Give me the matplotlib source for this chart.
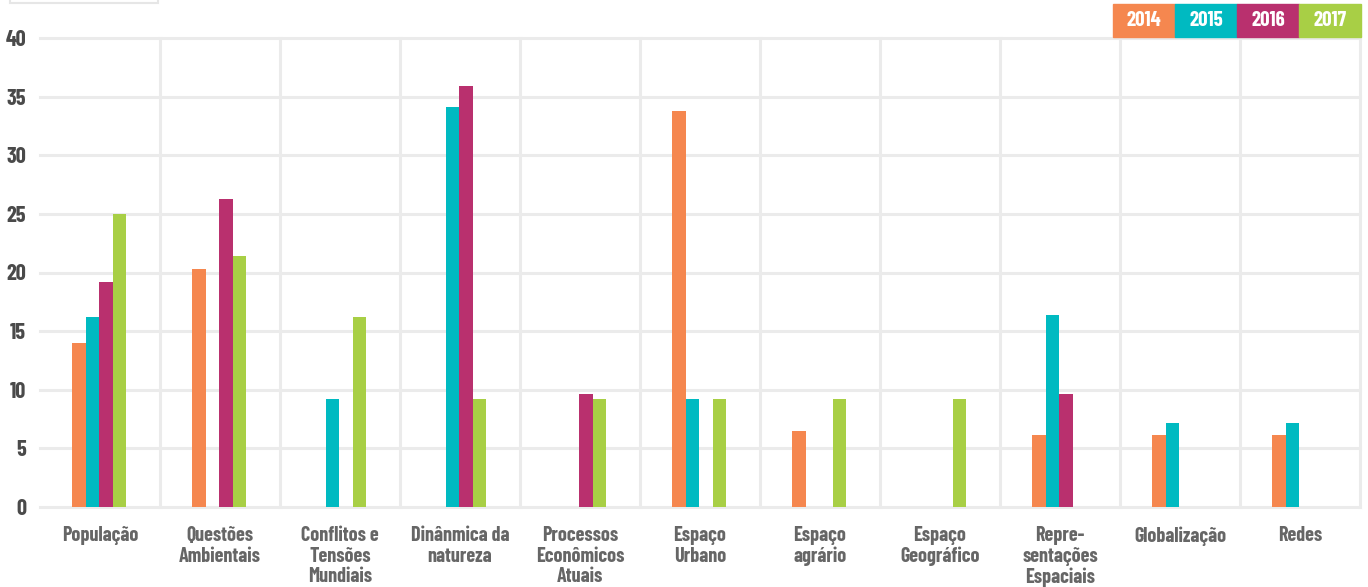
import matplotlib
matplotlib.use('Agg')
import matplotlib.pyplot as plt
import numpy as np
from matplotlib.patches import Rectangle

# data
categories = ['População', 'Questões\nAmbientais', 'Conflitos e\nTensões\nMundiais',
              'Dinânmica da\nnatureza', 'Processos\nEconômicos\nAtuais', 'Espaço\nUrbano',
              'Espaço\nagrário', 'Espaço\nGeográfico', 'Repre-\nsentações\nEspaciais',
              'Globalização', 'Redes']
years = ['2014', '2015', '2016', '2017']
v2014 = [14.0, 20.3, 0, 0, 0, 33.8, 6.5, 0, 6.1, 6.1, 6.1]
v2015 = [16.2, 0, 9.2, 34.1, 0, 9.2, 0, 0, 16.4, 7.2, 7.2]
v2016 = [19.2, 26.3, 0, 35.9, 9.6, 0, 0, 0, 9.6, 0, 0]
v2017 = [25.0, 21.4, 16.2, 9.2, 9.2, 9.2, 9.2, 9.2, 0, 0, 0]
colors = ['#F5874F', '#00BAC1', '#B9306E', '#A8CF45']

plt.rcParams['font.family'] = ['Barlow Condensed', 'DejaVu Sans']

series = [v2014, v2015, v2016, v2017]
W, H = 1368, 587
fig = plt.figure(figsize=(W / 100, H / 100), dpi=100)
ax = fig.add_axes([40 / W, (H - 507) / H, 1320 / W, (507 - 38) / H])

grid_c = '#EBEBEB'
x = np.arange(len(categories))
bw = 0.1125
for i, (vals, c) in enumerate(zip(series, colors)):
    ax.bar(x + (i - 1.5) * bw - 0.006, vals, width=bw, color=c, zorder=3, linewidth=0)

for yv in range(0, 41, 5):
    ax.axhline(yv, color=grid_c, lw=2.2, zorder=1, clip_on=False)
for xv in np.arange(0.5, len(categories), 1):
    ax.plot([xv, xv], [0, 40], color=grid_c, lw=2.2, zorder=1, clip_on=False)

ax.set_xlim(-0.5, len(categories) - 0.5)
ax.set_ylim(0, 40)
for s in ax.spines.values():
    s.set_visible(False)
ax.tick_params(length=0)
ax.set_yticks(range(0, 41, 5))
ax.set_yticklabels([str(v) for v in range(0, 41, 5)], fontsize=16, fontweight=700,
                   color='#4A4A4A')
ax.tick_params(axis='y', pad=10)
ax.set_xticks(x)
ax.set_xticklabels(categories, fontsize=14.5, fontweight=700, color='#666666',
                   va='top', linespacing=1.1)
ax.tick_params(axis='x', pad=14)

# legend boxes at top right
bx = 1113
for yr, c in zip(years, colors):
    fig.patches.append(Rectangle((bx / W, (H - 37) / H), 62 / W, 33 / H,
                                 transform=fig.transFigure, color=c, zorder=5))
    fig.text((bx + 31) / W, (H - 20.5) / H, yr, color='white', fontsize=15,
             fontweight=700, ha='center', va='center', zorder=6)
    bx += 62

# cut-off box at top left
fig.patches.append(Rectangle((10 / W, (H - 3) / H), 148 / W, 10 / H,
                             transform=fig.transFigure, facecolor='white',
                             edgecolor='#E6E6E6', lw=1.5, clip_on=False))

fig.savefig('out.png', dpi=100)
